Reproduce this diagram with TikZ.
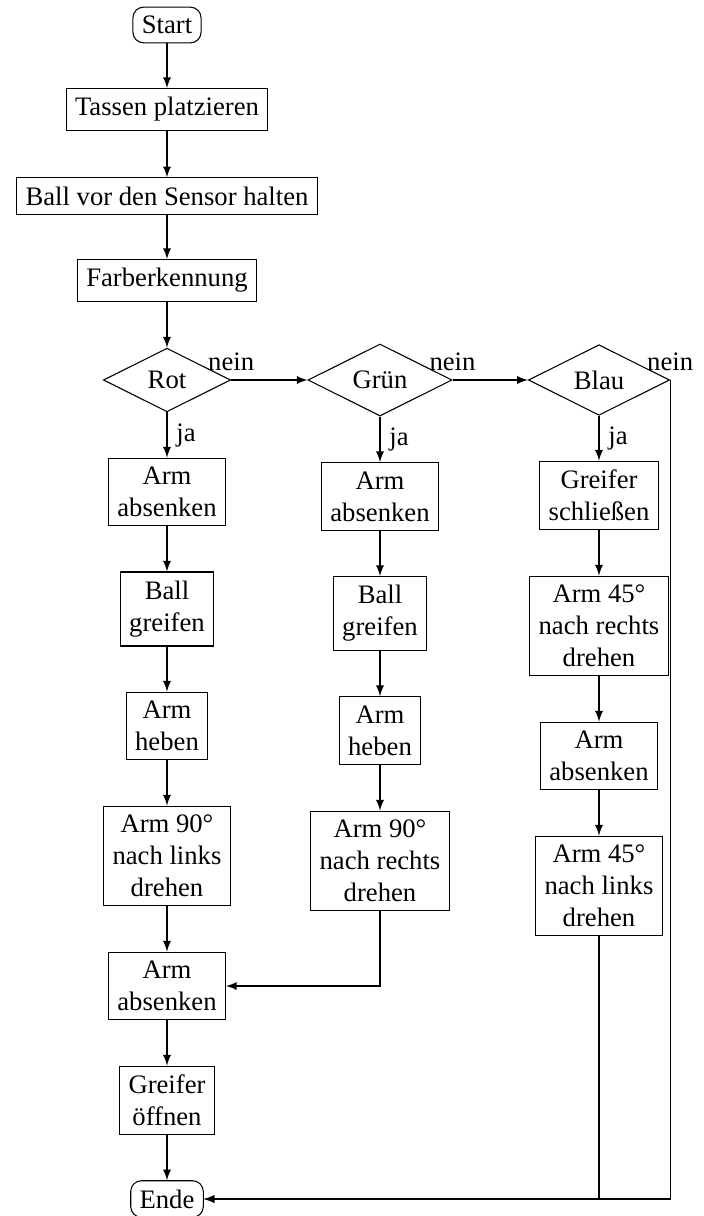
\documentclass[tikz,border=0pt]{standalone}
\usepackage{fontspec}
\setmainfont{Liberation Serif}
\usetikzlibrary{shapes.geometric,arrows}
\begin{document}
\begin{tikzpicture}[x=0.375pt,y=-0.375pt,>=latex,
  stepbox/.style={draw,align=center},
  termbox/.style={draw,rounded corners=4pt},
  decbox/.style={draw,diamond,aspect=2},
  lbl/.style={inner sep=0.333em}]
\useasboundingbox (0,0) rectangle (704,1216);
% main column
\node[termbox] (start) at (167,25) {Start};
\node[stepbox] (tassen) at (167,109.5) {Tassen platzieren};
\node[stepbox] (ball) at (167,196) {Ball vor den Sensor halten};
\node[stepbox] (farb) at (167,280.5) {Farberkennung};
\node[decbox] (rot) at (167,380) {Rot};
\node[decbox] (gruen) at (380,380) {Grün};
\node[decbox] (blau) at (599,380) {Blau};
% column Rot
\node[stepbox] (a1) at (167,492) {Arm\\absenken};
\node[stepbox] (b1) at (167,609) {Ball\\greifen};
\node[stepbox] (c1) at (167,726) {Arm\\heben};
\node[stepbox] (d1) at (167,856) {Arm 90°\\nach links\\drehen};
\node[stepbox] (e1) at (167,986) {Arm\\absenken};
\node[stepbox] (f1) at (167,1100.5) {Greifer\\öffnen};
\node[termbox] (ende) at (167,1199) {Ende};
% column Gruen
\node[stepbox] (a2) at (380,496.5) {Arm\\absenken};
\node[stepbox] (b2) at (380,613.5) {Ball\\greifen};
\node[stepbox] (c2) at (380,730.5) {Arm\\heben};
\node[stepbox] (d2) at (380,861) {Arm 90°\\nach rechts\\drehen};
% column Blau
\node[stepbox] (a3) at (599,495.5) {Greifer\\schließen};
\node[stepbox] (b3) at (599,626) {Arm 45°\\nach rechts\\drehen};
\node[stepbox] (c3) at (599,756) {Arm\\absenken};
\node[stepbox] (d3) at (599,886) {Arm 45°\\nach links\\drehen};
% connectors
\draw[->] (start) -- (tassen);
\draw[->] (tassen) -- (ball);
\draw[->] (ball) -- (farb);
\draw[->] (farb) -- (rot);
\draw[->] (rot.east) -- node[lbl,pos=0,above] {nein} (gruen.west);
\draw[->] (gruen.east) -- node[lbl,pos=0,above] {nein} (blau.west);
\draw[->] (blau.east) -- node[lbl,pos=0,above] {nein} (blau.east |- ende) -- (ende.east);
\draw[->] (rot) -- node[lbl,right] {ja} (a1);
\draw[->] (gruen) -- node[lbl,right] {ja} (a2);
\draw[->] (blau) -- node[lbl,right] {ja} (a3);
\draw[->] (a1) -- (b1);
\draw[->] (b1) -- (c1);
\draw[->] (c1) -- (d1);
\draw[->] (d1) -- (e1);
\draw[->] (e1) -- (f1);
\draw[->] (f1) -- (ende);
\draw[->] (a2) -- (b2);
\draw[->] (b2) -- (c2);
\draw[->] (c2) -- (d2);
\draw[->] (d2) |- (e1.east);
\draw[->] (a3) -- (b3);
\draw[->] (b3) -- (c3);
\draw[->] (c3) -- (d3);
\draw[->] (d3) |- (ende.east);
\end{tikzpicture}
\end{document}
